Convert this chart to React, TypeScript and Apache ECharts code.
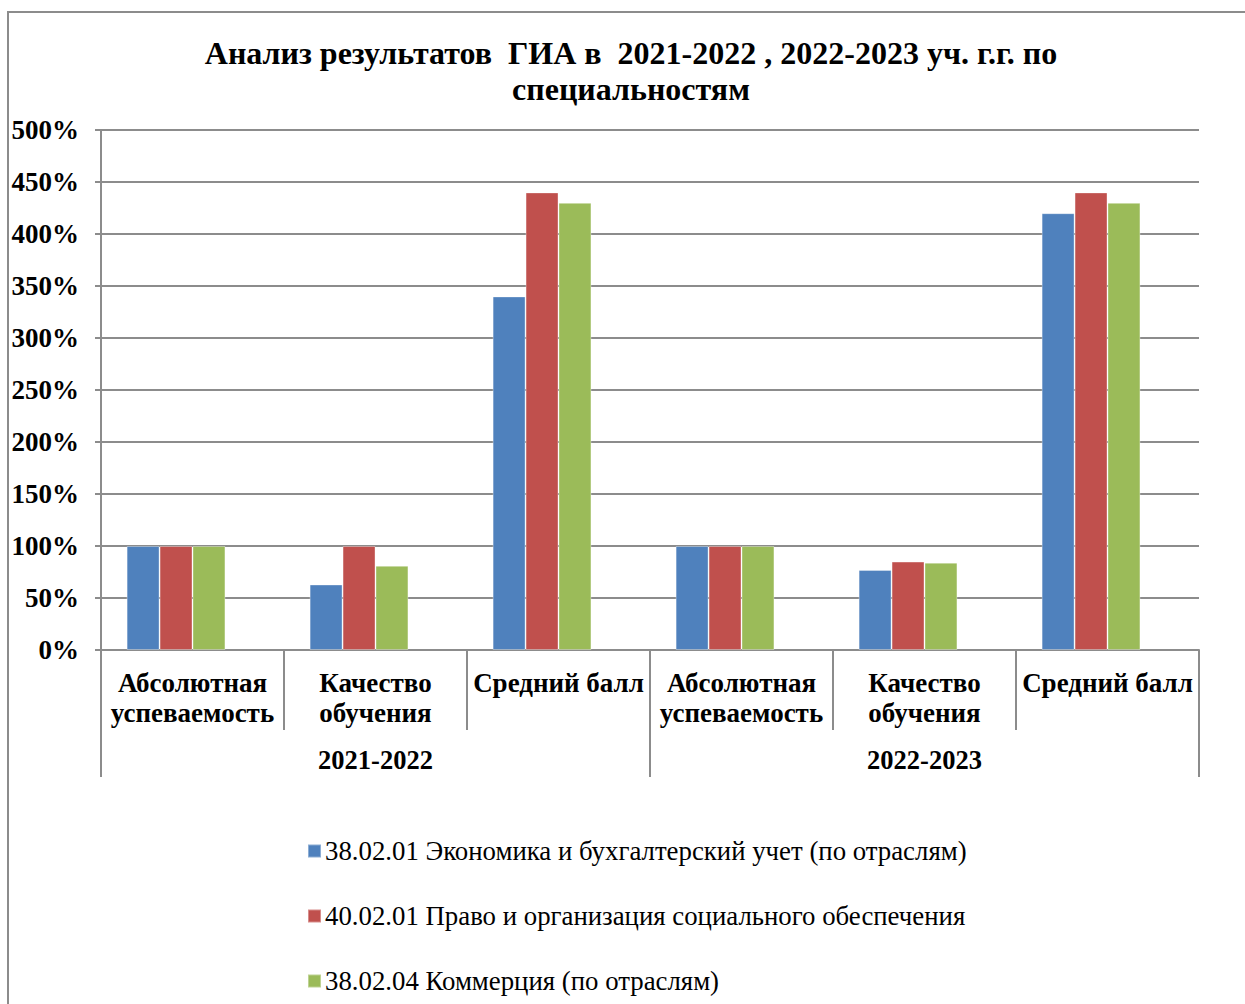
import React, { useEffect, useRef } from "react";
import * as echarts from "echarts";

const categories = [
  "Абсолютная\nуспеваемость",
  "Качество\nобучения",
  "Средний балл",
  "Абсолютная\nуспеваемость",
  "Качество\nобучения",
  "Средний балл",
];
const years = ["2021-2022", "2022-2023"];
const seriesNames = [
  "38.02.01 Экономика и бухгалтерский учет (по отраслям)",
  "40.02.01 Право и организация социального обеспечения",
  "38.02.04 Коммерция (по отраслям)",
];
const economics = [100, 63, 340, 100, 77, 420];
const law = [100, 100, 440, 100, 85, 440];
const commerce = [100, 81, 430, 100, 84, 430];
const emptySeries = [null, null, null, null, null, null];
const yTicks = [0, 50, 100, 150, 200, 250, 300, 350, 400, 450, 500];
const colors = ["#4F81BD", "#C0504D", "#9BBB59"];

const FONT = "'Liberation Serif', 'Times New Roman', serif";
const GRAY = "#8c8c8c";

export default function App() {
  const ref = useRef<HTMLDivElement>(null);
  useEffect(() => {
    if (!ref.current) return;
    const chart = echarts.init(ref.current, null, { renderer: "svg" });
    const values = [economics, law, commerce];
    const barSeries: any[] = seriesNames.map((name, i) => ({
      name,
      type: "bar",
      xAxisIndex: 0,
      data: values[i],
      barGap: "0%",
      barCategoryGap: "28%",
      itemStyle: { color: colors[i], borderColor: "rgba(255,255,255,0.35)", borderWidth: 1 },
    }));
    barSeries.push({
      name: "__empty",
      type: "bar",
      xAxisIndex: 0,
      data: emptySeries,
      barGap: "0%",
      barCategoryGap: "28%",
      itemStyle: { color: "transparent" },
    });
    chart.setOption({
      animation: false,
      backgroundColor: "#ffffff",
      graphic: [
        {
          type: "rect",
          shape: { x: 8, y: 12, width: 1400, height: 1200 },
          style: { fill: "none", stroke: GRAY, lineWidth: 2 },
          silent: true,
        },
      ],
      title: {
        text: "Анализ результатов  ГИА в  2021-2022 , 2022-2023 уч. г.г. по\nспециальностям",
        left: 631,
        top: 35,
        textAlign: "center",
        padding: 0,
        textStyle: {
          fontFamily: FONT,
          fontWeight: "bold",
          fontSize: 32,
          lineHeight: 36,
          color: "#000",
        },
      },
      legend: {
        orient: "vertical",
        left: 307,
        top: 836,
        height: 200,
        padding: 0,
        itemWidth: 13,
        itemHeight: 13,
        itemGap: 35,
        icon: "rect",
        data: seriesNames,
        textStyle: {
          fontFamily: FONT,
          fontSize: 26.8,
          lineHeight: 30,
          color: "#000",
          padding: [0, 0, 0, -1],
        },
      },
      grid: { left: 101, right: 46, top: 130, bottom: 354, containLabel: false },
      xAxis: [
        {
          type: "category",
          data: categories,
          position: "bottom",
          axisLine: { show: true, lineStyle: { color: GRAY, width: 2 } },
          axisTick: {
            show: true,
            interval: 0,
            length: 80,
            lineStyle: { color: GRAY, width: 2 },
          },
          axisLabel: {
            interval: 0,
            margin: 18,
            fontFamily: FONT,
            fontWeight: "bold",
            fontSize: 27,
            lineHeight: 30,
            color: "#000",
          },
        },
        {
          type: "category",
          data: years,
          position: "bottom",
          offset: 0,
          axisLine: { show: false },
          axisTick: {
            show: true,
            interval: 0,
            length: 127,
            lineStyle: { color: GRAY, width: 2 },
          },
          axisLabel: {
            interval: 0,
            margin: 96,
            fontFamily: FONT,
            fontWeight: "bold",
            fontSize: 26.5,
            color: "#000",
          },
        },
      ],
      yAxis: {
        type: "value",
        min: 0,
        max: 500,
        interval: 50,
        axisLine: { show: true, lineStyle: { color: GRAY, width: 2 } },
        axisTick: { show: true, length: 6, lineStyle: { color: GRAY, width: 2 } },
        splitLine: { show: true, lineStyle: { color: GRAY, width: 2 } },
        axisLabel: {
          margin: 22,
          formatter: (v: number) => (yTicks.includes(v) ? `${v}%` : ""),
          fontFamily: FONT,
          fontWeight: "bold",
          fontSize: 27,
          color: "#000",
        },
      },
      series: barSeries,
    });
    return () => chart.dispose();
  }, []);
  return (
    <div
      ref={ref}
      style={{ position: "absolute", left: 0, top: 0, width: 1245, height: 1004 }}
    />
  );
}
